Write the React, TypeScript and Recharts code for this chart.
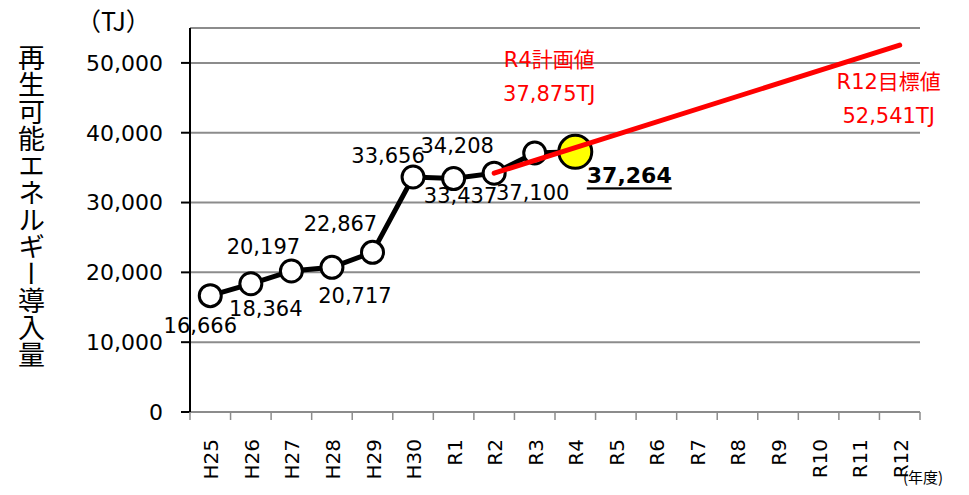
import { CartesianGrid, LabelList, Line, LineChart, XAxis, YAxis } from "recharts";

const years = ["H25", "H26", "H27", "H28", "H29", "H30", "R1", "R2", "R3", "R4", "R5", "R6", "R7", "R8", "R9", "R10", "R11", "R12"];
const actual = [16666, 18364, 20197, 20717, 22867, 33656, 33437, 34208, 37100, 37264, null, null, null, null, null, null, null, null];
const plan = [null, null, null, null, null, null, null, 34208, null, 37875, null, null, null, null, null, null, null, 52541];
const planTitles = ["", "", "", "", "", "", "", "", "", "R4計画値", "", "", "", "", "", "", "", "R12目標値"];
const yTicks = [0, 10000, 20000, 30000, 40000, 50000];

// label offsets from each point (dx, dy), placed as in the source
const labelOffsets = [[-10, 30], [15, 25], [-28, -24], [23, 29], [-32, -28], [-25, -21], [7, 17], [-37, -27], [-2, 40], [54, 24]];

const FONT = "'DejaVu Sans', 'Noto Sans CJK JP', sans-serif";
const fmt = (v: number) => v.toLocaleString("en-US");

const data = years.map((y, i) => ({ year: y, actual: actual[i], plan: plan[i], planTitle: planTitles[i] }));

function ActualDot(props: any) {
  const { cx, cy, index } = props;
  if (cx == null || cy == null || actual[index] == null) return null;
  const last = index === 9;
  return <circle cx={cx} cy={cy} r={last ? 16.5 : 11} fill={last ? "#ffff00" : "#fff"} stroke="#000" strokeWidth={3} />;
}

function ActualLabel(props: any) {
  const { x, y, index, value } = props;
  if (value == null) return null;
  const [dx, dy] = labelOffsets[index] || [0, -20];
  const last = index === 9;
  return (
    <text x={x + dx} y={y + dy} textAnchor="middle" dominantBaseline="central" fontFamily={FONT}
      fontSize={last ? 22 : 21} fontWeight={last ? 700 : 400} fill="#000"
      textDecoration={last ? "underline" : undefined}>
      {fmt(value)}
    </text>
  );
}

function PlanLabel(props: any) {
  const { x, y, index, value } = props;
  const title = planTitles[index];
  if (!title || value == null) return null;
  const isEnd = index === years.length - 1;
  const dx = isEnd ? -11 : -26;
  const dy1 = isEnd ? 37 : -88;
  return (
    <g fontFamily={FONT} fontSize={21} fill="#ff0000" textAnchor="middle">
      <text x={x + dx} y={y + dy1} dominantBaseline="central">{title}</text>
      <text x={x + dx} y={y + dy1 + 34} dominantBaseline="central">{fmt(value)}TJ</text>
    </g>
  );
}

function YearTick(props: any) {
  const { x, y, payload, index } = props;
  const half = 730 / years.length / 2;
  return (
    <g>
      <line x1={x - half} x2={x - half} y1={412} y2={420} stroke="#8c8c8c" strokeWidth={1.5} />
      {index === years.length - 1 && <line x1={x + half} x2={x + half} y1={412} y2={420} stroke="#8c8c8c" strokeWidth={1.5} />}
      <text x={x + 1} y={y + 19} transform={`rotate(-90 ${x + 1} ${y + 19})`} textAnchor="end" dominantBaseline="central"
        fontFamily={FONT} fontSize={20} fill="#000">
        {payload.value}
      </text>
    </g>
  );
}

export default function App() {
  return (
    <div style={{ position: "absolute", left: 0, top: 0, width: 969, height: 495, background: "#fff" }}>
      <LineChart width={969} height={495} data={data} margin={{ top: 28, right: 49, bottom: 0, left: 90 }}>
        <CartesianGrid horizontal vertical={false} stroke="#8c8c8c" strokeWidth={2} />
        <XAxis dataKey="year" height={83} padding={{ left: 20.28, right: 20.28 }} interval={0}
          axisLine={{ stroke: "#8c8c8c", strokeWidth: 2 }} tickLine={false} tick={<YearTick />} />
        <YAxis width={100} domain={[0, 55000]} ticks={yTicks} interval={0} tickFormatter={fmt}
          axisLine={{ stroke: "#000", strokeWidth: 2 }} tickLine={{ stroke: "#000", strokeWidth: 2 }}
          tickSize={9} tickMargin={18} tick={{ fontFamily: FONT, fontSize: 22, fill: "#000" }} />
        <Line dataKey="actual" stroke="#000" strokeWidth={5} dot={<ActualDot />} activeDot={false}
          isAnimationActive={false} connectNulls={false}>
          <LabelList dataKey="actual" content={<ActualLabel />} />
        </Line>
        <Line dataKey="plan" stroke="#ff0000" strokeWidth={5} strokeLinecap="round" dot={false} activeDot={false}
          connectNulls isAnimationActive={false} zIndex={1500}>
          <LabelList dataKey="plan" content={<PlanLabel />} />
        </Line>
      </LineChart>
      <div style={{ position: "absolute", left: 17, top: 44, writingMode: "vertical-rl", fontFamily: "'Noto Sans CJK JP', sans-serif", fontSize: 27, lineHeight: "28px", color: "#000" }}>
        再生可能エネルギー導入量
      </div>
      <div style={{ position: "absolute", left: 76, top: 0, fontFamily: "'Noto Sans CJK JP', sans-serif", fontSize: 25, lineHeight: "40px", color: "#000" }}>
        （TJ）
      </div>
      <div style={{ position: "absolute", left: 903, top: 466, fontFamily: "'Noto Sans CJK JP', sans-serif", fontSize: 15, color: "#000" }}>
        (年度)
      </div>
    </div>
  );
}
